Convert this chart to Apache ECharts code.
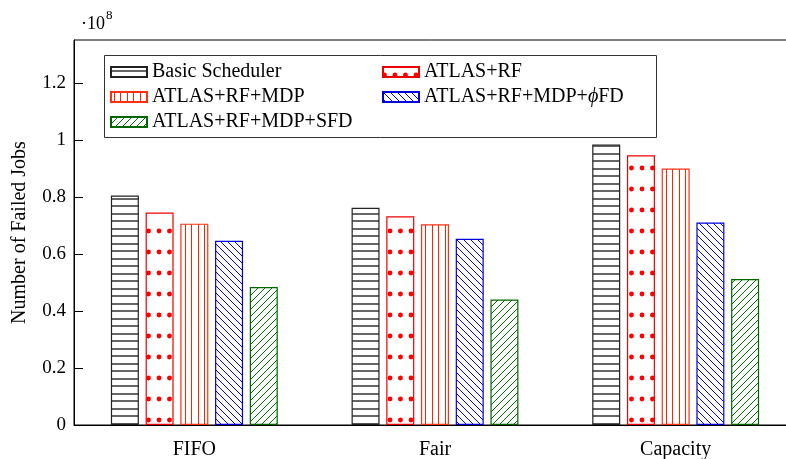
<!DOCTYPE html>
<html>
<head>
<meta charset="utf-8">
<script src="https://cdn.jsdelivr.net/npm/echarts@6/dist/echarts.min.js"></script>
<style>
html, body { margin: 0; padding: 0; background: #fff; }
#chart { width: 786px; height: 459px; }
</style>
</head>
<body>
<div id="chart"></div>
<script>
// schedulers on the x axis, values in units of 10^8 failed jobs
var schedulers = ['FIFO', 'Fair', 'Capacity'];
var seriesNames = ['Basic Scheduler', 'ATLAS+RF', 'ATLAS+RF+MDP', 'ATLAS+RF+MDP+ϕFD', 'ATLAS+RF+MDP+SFD'];
var basicVals = [0.805, 0.762, 0.984];
var rfVals = [0.745, 0.732, 0.946];
var mdpVals = [0.706, 0.704, 0.899];
var phiFdVals = [0.646, 0.653, 0.710];
var sfdVals = [0.484, 0.440, 0.512];
var yTicks = [0, 0.2, 0.4, 0.6, 0.8, 1, 1.2];

var FONT = '"Liberation Serif", "DejaVu Serif", serif';

// small canvas tiles used as fill patterns (like pgfplots patterns)
function tile(w, h, draw) {
  var c = document.createElement('canvas');
  c.width = w;
  c.height = h;
  var ctx = c.getContext('2d');
  ctx.fillStyle = '#fff';
  ctx.fillRect(0, 0, w, h);
  draw(ctx);
  return c;
}

var hLines = tile(10, 15, function (ctx) {
  ctx.fillStyle = '#666';
  ctx.fillRect(0, 3, 10, 2);
  ctx.fillRect(0, 10, 10, 2);
});
function dotTile(h, rowY) {
  return tile(21, h, function (ctx) {
    ctx.fillStyle = '#ff0000';
    [1.5, 12, 22.5].forEach(function (x) {
      [rowY - h, rowY, rowY + h].forEach(function (y) {
        ctx.beginPath();
        ctx.arc(x, y, 2.4, 0, Math.PI * 2);
        ctx.fill();
      });
    });
  });
}
var dots = dotTile(21, 0);
var legendDots = dotTile(10, 8);   // short tile so the small legend icon always shows a row of dots
var vLines = tile(13, 4, function (ctx) {
  ctx.fillStyle = '#ff2200';
  ctx.fillRect(3, 0, 1, 4);
  ctx.fillRect(9, 0, 1, 4);
});
function diag(color, down) {
  return tile(7, 7, function (ctx) {
    ctx.strokeStyle = color;
    ctx.lineWidth = 1;
    ctx.beginPath();
    if (down) {
      ctx.moveTo(-1, -1); ctx.lineTo(8, 8);
      ctx.moveTo(-1, 6); ctx.lineTo(1, 8);
      ctx.moveTo(6, -1); ctx.lineTo(8, 1);
    } else {
      ctx.moveTo(-1, 8); ctx.lineTo(8, -1);
      ctx.moveTo(-1, 1); ctx.lineTo(1, -1);
      ctx.moveTo(6, 8); ctx.lineTo(8, 6);
    }
    ctx.stroke();
  });
}
var nwLines = diag('#0000ff', true);
var neLines = diag('#007000', false);

function barSeries(name, data, pattern, border) {
  return {
    name: name,
    type: 'bar',
    data: data,
    barWidth: 28,
    barGap: '24%',
    itemStyle: {
      color: { image: pattern, repeat: 'repeat' },
      borderColor: border,
      borderWidth: 1.2
    },
    emphasis: { disabled: true }
  };
}

// legend is split in two columns, like the pgfplots legend
function legendCol(left, names) {
  return {
    left: left,
    top: 62,
    orient: 'vertical',
    padding: 0,
    itemWidth: 36,
    itemHeight: 10,
    itemGap: 5,
    icon: 'rect',
    data: names,
    formatter: function (name) {
      return name.replace('ϕ', '{i|ϕ}');
    },
    textStyle: {
      fontFamily: FONT,
      fontSize: 20,
      color: '#000',
      rich: {
        i: { fontStyle: 'italic', fontFamily: FONT, fontSize: 20, color: '#000' }
      }
    }
  };
}

var myChart = echarts.init(document.getElementById('chart'));

myChart.setOption({
  animation: false,
  backgroundColor: '#fff',
  grid: {
    left: 74,
    width: 722,   // runs past the right edge, as in the original figure
    top: 40,
    bottom: 34,
    outerBoundsMode: 'none',
    show: true,
    borderColor: '#000',
    borderWidth: 1
  },
  legend: [
    legendCol(110, [seriesNames[0], seriesNames[2], seriesNames[4]]),
    legendCol(382, [
      { name: seriesNames[1], itemStyle: { color: { image: legendDots, repeat: 'repeat' } } },
      seriesNames[3]
    ])
  ],
  xAxis: {
    type: 'category',
    data: schedulers,
    axisLine: { lineStyle: { color: '#000', width: 1 } },
    axisTick: { alignWithLabel: true, length: 9, lineStyle: { color: '#555' } },
    axisLabel: { color: '#000', fontFamily: FONT, fontSize: 20, margin: 15 }
  },
  yAxis: {
    type: 'value',
    min: 0,
    max: 1.35,
    interval: 0.2,
    name: 'Number of Failed Jobs',
    nameLocation: 'middle',
    nameGap: 44,
    nameTextStyle: { color: '#000', fontFamily: FONT, fontSize: 20 },
    axisLine: { show: true, lineStyle: { color: '#000', width: 1 } },
    axisTick: { show: true, inside: true, length: 9, lineStyle: { color: '#000' } },
    splitLine: { show: false },
    axisLabel: {
      color: '#000',
      fontFamily: FONT,
      fontSize: 19,
      margin: 8,
      showMaxLabel: false,
      formatter: function (v) {
        return yTicks.indexOf(Math.round(v * 10) / 10) >= 0 ? String(Math.round(v * 10) / 10) : '';
      }
    }
  },
  graphic: [
    {
      type: 'rect',
      z: 3,
      shape: { x: 104.5, y: 55.5, width: 552, height: 82 },
      style: { fill: '#fff', stroke: '#333', lineWidth: 1 }
    },
    { type: 'text', left: 81, top: 15, style: { text: '·10', fontFamily: FONT, fontSize: 18, fill: '#000' } },
    { type: 'text', left: 106, top: 9, style: { text: '8', fontFamily: FONT, fontSize: 13, fill: '#000' } }
  ],
  series: [
    barSeries(seriesNames[0], basicVals, hLines, '#222'),
    barSeries(seriesNames[1], rfVals, dots, '#ee0000'),
    barSeries(seriesNames[2], mdpVals, vLines, '#ff3010'),
    barSeries(seriesNames[3], phiFdVals, nwLines, '#0000dd'),
    barSeries(seriesNames[4], sfdVals, neLines, '#006600')
  ]
});
</script>
</body>
</html>
